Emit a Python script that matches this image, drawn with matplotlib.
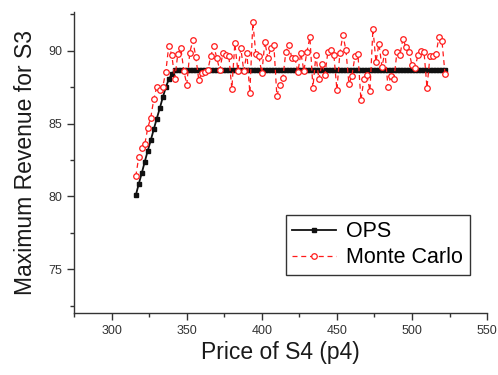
import matplotlib
matplotlib.use('Agg')
import matplotlib.pyplot as plt
from matplotlib.ticker import MultipleLocator

# Precio de S4 (eje x), común a las dos series
price = [
    316, 318, 320, 322, 324, 326, 328, 330, 332, 334, 336, 338, 340,
    342, 344, 346, 348, 350, 352, 354, 356, 358, 360, 362, 364, 366,
    368, 370, 372, 374, 376, 378, 380, 382, 384, 386, 388, 390, 392,
    394, 396, 398, 400, 402, 404, 406, 408, 410, 412, 414, 416, 418,
    420, 422, 424, 426, 428, 430, 432, 434, 436, 438, 440, 442, 444,
    446, 448, 450, 452, 454, 456, 458, 460, 462, 464, 466, 468, 470,
    472, 474, 476, 478, 480, 482, 484, 486, 488, 490, 492, 494, 496,
    498, 500, 502, 504, 506, 508, 510, 512, 514, 516, 518, 520, 522,
]

ops = [
    80.07, 80.86, 81.60, 82.38, 83.14, 83.85, 84.61, 85.34, 86.05, 86.79, 87.48, 88.03, 88.38,
    88.65, 88.65, 88.65, 88.65, 88.65, 88.65, 88.65, 88.65, 88.65, 88.65, 88.65, 88.65, 88.65,
    88.65, 88.65, 88.65, 88.65, 88.65, 88.65, 88.65, 88.65, 88.65, 88.65, 88.65, 88.65, 88.65,
    88.65, 88.65, 88.65, 88.65, 88.65, 88.65, 88.65, 88.65, 88.65, 88.65, 88.65, 88.65, 88.65,
    88.65, 88.65, 88.65, 88.65, 88.65, 88.65, 88.65, 88.65, 88.65, 88.65, 88.65, 88.65, 88.65,
    88.65, 88.65, 88.65, 88.65, 88.65, 88.65, 88.65, 88.65, 88.65, 88.65, 88.65, 88.65, 88.65,
    88.65, 88.65, 88.65, 88.65, 88.65, 88.65, 88.65, 88.65, 88.65, 88.65, 88.65, 88.65, 88.65,
    88.65, 88.65, 88.65, 88.65, 88.65, 88.65, 88.65, 88.65, 88.65, 88.65, 88.65, 88.65, 88.65,
]

monte_carlo = [
    81.37, 82.70, 83.30, 83.57, 84.70, 85.41, 86.66, 87.53, 87.32, 87.53, 88.54, 90.33, 89.71,
    88.08, 89.76, 90.20, 88.63, 87.67, 89.87, 90.70, 89.57, 87.97, 88.49, 88.54, 88.66, 89.64,
    90.31, 89.48, 88.66, 89.83, 89.69, 89.64, 87.39, 90.49, 88.63, 90.15, 88.59, 89.87, 87.11,
    91.94, 89.76, 89.60, 88.45, 90.61, 89.48, 90.17, 90.38, 86.89, 87.64, 88.13, 89.94, 90.40,
    89.48, 89.51, 88.54, 89.83, 88.61, 89.94, 90.91, 87.46, 89.69, 88.03, 89.11, 88.36, 89.92,
    90.06, 89.67, 87.30, 89.87, 91.07, 90.03, 87.71, 88.29, 89.60, 89.78, 86.59, 88.08, 88.33,
    87.23, 91.51, 89.23, 90.47, 88.89, 89.92, 87.53, 88.29, 88.06, 89.92, 89.71, 90.82, 90.22,
    89.92, 89.00, 88.84, 89.69, 89.99, 89.94, 87.46, 89.64, 89.64, 89.76, 90.95, 90.63, 88.43,
]

plt.rcParams['font.family'] = ['Liberation Sans', 'DejaVu Sans']

fig = plt.figure(figsize=(4.98, 3.75), dpi=100)
ax = fig.add_axes([0.149, 0.165, 0.829, 0.803])

ax.plot(price, ops, color='#111111', lw=1.3, marker='s', ms=3.2,
        label='OPS', zorder=2)
ax.plot(price, monte_carlo, color='#ff1a1a', lw=0.9, ls=(0, (4, 3)),
        marker='o', ms=4.0, mfc='white', mec='#ff1a1a', mew=0.9,
        label='Monte Carlo', zorder=3)

ax.set_xlim(275, 550)
ax.set_ylim(72, 92.65)
ax.xaxis.set_major_locator(MultipleLocator(50))
ax.xaxis.set_minor_locator(MultipleLocator(25))
ax.yaxis.set_major_locator(MultipleLocator(5))
ax.yaxis.set_minor_locator(MultipleLocator(2.5))

ax.spines['top'].set_visible(False)
ax.spines['right'].set_visible(False)
for s in ('left', 'bottom'):
    ax.spines[s].set_color('#333333')
    ax.spines[s].set_linewidth(1.0)

ax.tick_params(which='major', direction='out', length=5, width=1,
               color='#333333', labelsize=9, labelcolor='#333333')
ax.tick_params(which='minor', direction='out', length=3, width=1,
               color='#333333')

ax.set_xlabel('Price of S4 (p4)', fontsize=16.5, color='#1a1a1a', labelpad=3)
ax.set_ylabel('Maximum Revenue for S3', fontsize=16.5, color='#1a1a1a', labelpad=8)

leg = ax.legend(loc='lower left', bbox_to_anchor=(0.513, 0.127), borderaxespad=0,
                fontsize=15.5, numpoints=1, handlelength=2.0, fancybox=False,
                framealpha=1, borderpad=0.3, labelspacing=0.25, handletextpad=0.5)
leg.get_frame().set_edgecolor('#333333')
leg.get_frame().set_linewidth(1.0)

fig.savefig('out.png', dpi=100)
